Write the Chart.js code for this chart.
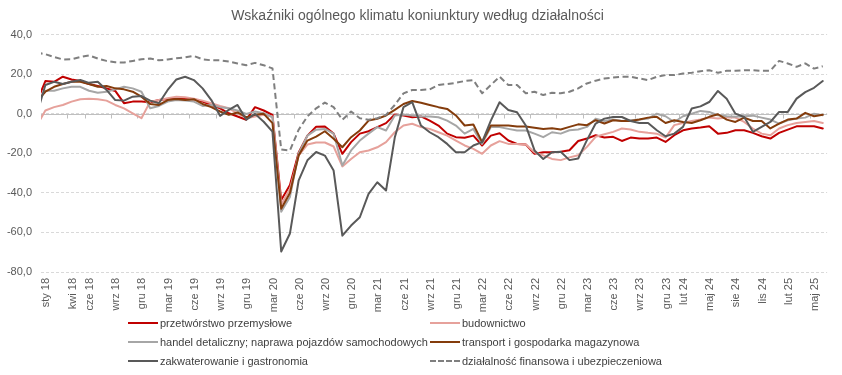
<!DOCTYPE html>
<html><head><meta charset="utf-8">
<script src="https://cdn.jsdelivr.net/npm/chart.js@4.4.1/dist/chart.umd.min.js"></script>
<style>
html,body{margin:0;padding:0;background:#fff;}
#wrap{position:relative;width:842px;height:375px;overflow:hidden;font-family:"Liberation Sans",Arial,sans-serif;}
canvas{position:absolute;left:0;top:0;}
.lg{position:absolute;font-size:11px;color:#404040;white-space:nowrap;line-height:13px;height:13px;}
.lg .sw{position:absolute;left:0;top:5.5px;width:30px;height:0;border-top-width:2px;}
.lg .tx{position:absolute;left:32px;top:0;}
</style></head><body>
<div id="wrap"><canvas id="c" width="842" height="375"></canvas><div id="legend"></div></div>
<script>
// categories: first one (gru 17) lies just outside the visible range (clipped segment at the left edge)
const categories = ['gru 17',
 'sty 18','lut 18','mar 18','kwi 18','maj 18','cze 18','lip 18','sie 18','wrz 18','paź 18','lis 18','gru 18',
 'sty 19','lut 19','mar 19','kwi 19','maj 19','cze 19','lip 19','sie 19','wrz 19','paź 19','lis 19','gru 19',
 'sty 20','lut 20','mar 20','kwi 20','maj 20','cze 20','lip 20','sie 20','wrz 20','paź 20','lis 20','gru 20',
 'sty 21','lut 21','mar 21','kwi 21','maj 21','cze 21','lip 21','sie 21','wrz 21','paź 21','lis 21','gru 21',
 'sty 22','lut 22','mar 22','kwi 22','maj 22','cze 22','lip 22','sie 22','wrz 22','paź 22','lis 22','gru 22',
 'sty 23','lut 23','mar 23','kwi 23','maj 23','cze 23','lip 23','sie 23','wrz 23','paź 23','lis 23','gru 23',
 'sty 24','lut 24','mar 24','kwi 24','maj 24','cze 24','lip 24','sie 24','wrz 24','paź 24','lis 24','gru 24',
 'sty 25','lut 25','mar 25','kwi 25','maj 25','cze 25'];

const tickLabels = ['sty 18','kwi 18','cze 18','wrz 18','gru 18','mar 19','cze 19','wrz 19','gru 19',
 'mar 20','cze 20','wrz 20','gru 20','mar 21','cze 21','wrz 21','gru 21','mar 22','cze 22','wrz 22','gru 22',
 'mar 23','cze 23','wrz 23','gru 23','lut 24','maj 24','sie 24','lis 24','lut 25','maj 25'];

const yTicks = [-80, -60, -40, -20, 0, 20, 40];

const seriesNames = ['przetwórstwo przemysłowe','budownictwo','handel detaliczny; naprawa pojazdów samochodowych',
 'transport i gospodarka magazynowa','zakwaterowanie i gastronomia','działalność finansowa i ubezpieczeniowa'];

const przetworstwo = [5.8,
 16.6,16.2,18.8,17.4,16.6,15.1,14.1,12.9,11.6,5.4,6.2,6.2,
 5.9,7,7.5,7.9,7.9,7.4,6.2,4.5,2.8,0.3,-1.3,-3,
 3.4,1.7,-0.5,-43.6,-36,-19.5,-11,-6.5,-6.4,-10,-20.2,-14.3,
 -10,-8.8,-6.7,-4.7,-0.3,-0.8,-1.7,-1.3,-3.4,-5.9,-10,-11.8,
 -12.1,-11,-16,-11,-9.8,-13.5,-15.2,-15.5,-20.2,-19.4,-19.4,-19.2,
 -18.4,-13.7,-12.5,-10.8,-12,-11.6,-13.7,-12,-12.5,-12.5,-12,-14.2,
 -10.8,-8.3,-7.4,-6.9,-6.3,-10,-9.6,-8.3,-8.3,-9.6,-11.3,-12.5,
 -9.6,-8,-6.3,-6.3,-6.3,-7.4];

const budownictwo = [-6.1,
 1.7,3.4,4.5,6.2,7.4,7.7,7.4,6.7,4.5,2.8,0.3,-2.2,
 6.2,7,7.9,8.7,8.4,7.7,6.7,5.4,4,2.8,0.3,-2.2,
 -1.3,-0.5,-1.3,-46,-38,-21,-15.5,-14.5,-14.5,-16.5,-26.6,-22.8,
 -19.4,-18.5,-16.9,-14.3,-9.3,-5.9,-5,-6.7,-7.6,-9.3,-11,-13.5,
 -16,-17.7,-20.2,-16,-13.8,-15.2,-15.2,-15.5,-19.4,-21,-22.8,-23.4,
 -22,-20.9,-16.7,-11.6,-10.3,-9.1,-7.4,-7.9,-9.1,-9.6,-10,-12,
 -5.7,-4.6,-3.6,-2.9,-1.9,-2.4,-1.9,-1.9,-4.1,-7.4,-10,-10.8,
 -7.4,-5.7,-4.6,-4.1,-3.6,-4.6];

const handel = [5.7,
 11.7,11.7,12.9,13.7,13.7,11.7,10.7,11.2,12.4,13.7,12.9,11.2,
 2.8,4,6.2,7,6.7,6.2,4,4.5,3.4,2.8,1.7,0,
 1.2,0.3,-1.7,-49.5,-42,-20,-11,-8,-7.6,-10,-26.1,-18.5,
 -13.5,-10,-6.7,-8.4,-0.8,-0.3,-0.8,-1.3,-1.3,-1.7,-3.4,-5.9,
 -10,-7.6,-15.2,-6.7,-6.7,-7.6,-8.4,-8.4,-10,-11.8,-9.3,-10,
 -8.3,-7.9,-6.6,-2.4,-3.6,-2.9,-3.6,-3.2,-2.9,-2.4,0.1,-1.2,
 -4.1,-1.2,0.1,1.5,1,-0.7,-1.2,-1.5,-1.2,-0.9,-1.9,-2.9,
 -4.9,-3.2,-2.4,-1.9,0.1,-0.7];

const transport = [6.2,
 11.2,13.7,15.1,16.2,16.2,15.1,13.7,14.1,12.9,12.4,11.2,8.7,
 5,4.5,7,7.5,7,7.4,5,3.4,1.2,-0.5,0.7,-1.7,
 -0.5,0,-4.7,-48,-40,-21,-13.5,-11.5,-8.8,-12.6,-16.9,-11.8,
 -8.4,-3.4,-2.5,-0.8,2,5,6.5,5.6,4.5,3.4,2.5,-0.8,
 -5.9,-5.4,-14.3,-5.9,-5.9,-5.9,-6.4,-6.4,-7,-7.6,-7.3,-7.9,
 -6.6,-5.3,-5.7,-3.2,-4.9,-3.2,-3.6,-3.6,-2.9,-1.9,-1.5,-4.6,
 -3.2,-4.1,-4.6,-3.2,-1.5,-0.2,-2.9,-4.1,-1.9,-3.6,-3.6,-7.4,
 -4.9,-2.9,-2.4,0.5,-1.2,-0.4];

const zakwaterowanie = [-0.6,
 14.6,16.2,15.1,16.2,17.1,15.7,16.2,12.1,7,6.7,8.7,9,
 6.7,5.4,12.1,17.4,18.8,17.1,12.9,7,-1,2,4.5,-3,
 0,-4,-9,-69.6,-60.5,-33.6,-23.5,-19.3,-21.1,-28.7,-61.6,-56.5,
 -52.3,-40.5,-34.6,-38.8,-12,3.4,5.9,-5.9,-9.3,-11.8,-15.2,-19.4,
 -19.4,-16,-14.3,-3.4,5.9,2,0.8,-5.9,-18.5,-22.8,-19.4,-19.2,
 -23.4,-22.6,-13.3,-4.9,-2.4,-1.6,-1.6,-3.6,-4.6,-4.6,-8.3,-11.3,
 -10,-6.6,2.7,3.8,6,11.6,7.7,0.1,-1.6,-9.1,-6.6,-4.1,
 1,1,7.7,11,13.2,16.6];

const finanse = [31,
 30.2,28.8,27.5,27.6,28.8,29.6,28,26.8,26.1,26,26.8,27.6,
 28,27.1,27.5,28.1,28.6,29.3,27.6,27.1,27.1,26.5,25.5,24.6,
 25.8,24.6,23,-18,-18.5,-8,-1.3,2.8,5.7,3.4,-3,1.2,
 -2.2,-3,-2.2,-0.5,4.5,10.4,12.1,12.1,12.4,14.6,15.1,15.7,
 16.6,17.1,10.4,14.6,18.8,14.6,14.6,10.4,11.2,9.5,10.7,10.4,
 11.2,12.9,15.4,16.8,17.9,18.4,18.8,18.8,17.9,17.1,18.8,19.6,
 19.6,20.4,20.8,21.6,22.1,20.8,21.8,21.8,22.1,22.1,21.8,21.8,
 26.8,25.5,23.8,25.5,22.9,24.1];

const seriesValues = [przetworstwo, budownictwo, handel, transport, zakwaterowanie, finanse];
const seriesColors = ['#c00000','#e6a19b','#a6a6a6','#843c0c','#595959','#7f7f7f'];
const seriesDash = [[],[],[],[],[],[6,3.5]];

const FONT = '"Liberation Sans", Arial, sans-serif';

const zeroLine = {
  id: 'zeroLine',
  beforeDatasetsDraw(chart) {
    const xs = chart.scales.x, ys = chart.scales.y, ctx = chart.ctx;
    const y0 = Math.round(ys.getPixelForValue(0)) + 0.5;
    ctx.save();
    ctx.strokeStyle = '#bfbfbf';
    ctx.lineWidth = 1;
    ctx.beginPath();
    ctx.moveTo(chart.chartArea.left, y0);
    ctx.lineTo(chart.chartArea.right, y0);
    ctx.stroke();
    tickLabels.forEach(l => {
      const k = categories.indexOf(l);
      const px = Math.round((xs.getPixelForValue(k) + xs.getPixelForValue(k - 1)) / 2) + 0.5;
      ctx.beginPath();
      ctx.moveTo(px, y0);
      ctx.lineTo(px, y0 + 4);
      ctx.stroke();
    });
    ctx.restore();
  }
};

const chart = new Chart(document.getElementById('c'), {
  type: 'line',
  data: {
    labels: categories,
    datasets: seriesValues.map((vals, i) => ({
      label: seriesNames[i],
      data: vals,
      borderColor: seriesColors[i],
      backgroundColor: seriesColors[i],
      borderWidth: 2,
      borderDash: seriesDash[i],
      borderCapStyle: seriesDash[i].length ? 'butt' : 'round',
      borderJoinStyle: 'round',
      pointRadius: 0,
      pointHoverRadius: 0,
      tension: 0,
      fill: false,
      order: seriesValues.length - i
    }))
  },
  options: {
    responsive: false,
    animation: false,
    events: [],
    layout: { padding: { left: 0, right: 7, top: 0, bottom: 61 } },
    plugins: {
      legend: { display: false },
      tooltip: { enabled: false },
      title: {
        display: true,
        text: 'Wskaźniki ogólnego klimatu koniunktury według działalności',
        color: '#595959',
        font: { size: 14, weight: 'normal', family: FONT },
        padding: { top: 8, bottom: 10 }
      }
    },
    scales: {
      x: {
        type: 'category',
        min: 'sty 18',
        offset: true,
        grid: { display: false, drawTicks: false },
        border: { display: false },
        ticks: {
          autoSkip: false,
          minRotation: 90,
          maxRotation: 90,
          padding: 6,
          labelOffset: 1,
          color: '#595959',
          font: { size: 11, family: FONT },
          callback: function (value) {
            const l = this.getLabelForValue(value);
            return tickLabels.includes(l) ? l : '';
          }
        },
        afterFit(s) { s.height = 42; }
      },
      y: {
        min: yTicks[0],
        max: yTicks[yTicks.length - 1],
        afterBuildTicks(s) { s.ticks = yTicks.map(v => ({ value: v })); },
        grid: { color: '#d9d9d9', lineWidth: 1, drawTicks: false },
        border: { display: false, dash: [3, 2] },
        ticks: {
          padding: 9,
          color: '#595959',
          font: { size: 11, family: FONT },
          callback: v => v.toFixed(1).replace('.', ',')
        },
        afterFit(s) { s.width = 41; }
      }
    }
  },
  plugins: [zeroLine]
});

// legend (two columns, three rows)
const legend = document.getElementById('legend');
const colX = [128, 430];
const rowY = [316.5, 335.5, 354.5];
chart.data.datasets.forEach((ds, i) => {
  const d = document.createElement('div');
  d.className = 'lg';
  d.style.left = colX[i % 2] + 'px';
  d.style.top = rowY[Math.floor(i / 2)] + 'px';
  const sw = document.createElement('div');
  sw.className = 'sw';
  sw.style.borderTopStyle = ds.borderDash.length ? 'dashed' : 'solid';
  sw.style.borderTopColor = ds.borderColor;
  const tx = document.createElement('span');
  tx.className = 'tx';
  tx.textContent = ds.label;
  d.appendChild(sw);
  d.appendChild(tx);
  legend.appendChild(d);
});
</script>
</body></html>
